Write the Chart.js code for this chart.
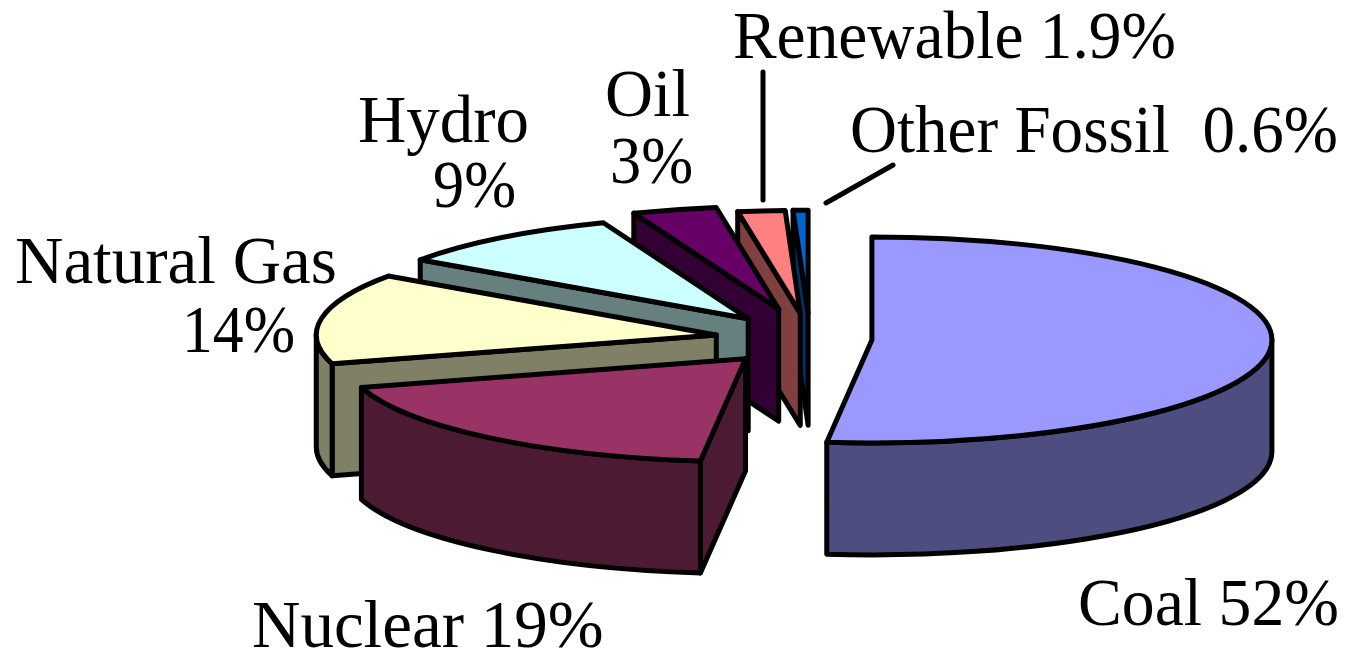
<!DOCTYPE html>
<html>
<head>
<meta charset="utf-8">
<script src="https://cdn.jsdelivr.net/npm/chart.js@4"></script>
<style>
  html, body { margin: 0; padding: 0; background: #fff; }
  canvas { display: block; }
</style>
</head>
<body>
<canvas id="grafik" width="1350" height="651"></canvas>
<script>
// --- data ---
const categories = ['Coal', 'Nuclear', 'Natural Gas', 'Hydro', 'Oil', 'Renewable', 'Other Fossil'];
// each one rounds to the printed label
const shares = [51.8, 18.7, 14.2, 9.4, 3.4, 1.9, 0.6];
const topColors = ['#9999FF', '#993366', '#FFFFCC', '#CCFFFF', '#660066', '#FF8080', '#0066CC'];
const wallColors = ['#4D4D80', '#4D1A33', '#808066', '#668080', '#330033', '#804040', '#003366'];
const explode = [62, 100, 95, 100, 120, 100, 100];

// text of the labels, left edge, baseline, width
const labelLines = [
    ['Renewable 1.9%', 733, 58, 443],
    ['Other Fossil  0.6%', 850, 152, 488],
    ['Oil', 605, 116, 85],
    ['3%', 610, 183, 83],
    ['Hydro', 358, 142, 171],
    ['9%', 433, 207, 83],
    ['Natural Gas', 15, 283, 323],
    ['14%', 182, 352, 113],
    ['Nuclear 19%', 252, 647, 352],
    ['Coal 52%', 1078, 625, 261]
];
const leaders = [[763, 72, 763, 200], [893, 165, 826, 203]];

// --- 3d look ---
const RX = 400, RY = 103, DEPTH = 112;

function sliceGeom(arc, i) {
    const mid = (arc.startAngle + arc.endAngle) / 2;
    return {
        x: arc.x + Math.cos(mid) * explode[i],
        y: arc.y + Math.sin(mid) * explode[i] * RY / RX,
        a0: arc.startAngle,
        a1: arc.endAngle
    };
}

function paint(ctx, fill) {
    ctx.fillStyle = fill;
    ctx.fill();
    ctx.stroke();
}

function drawFace(ctx, g, a, fill) {
    const px = g.x + Math.cos(a) * RX, py = g.y + Math.sin(a) * RY;
    ctx.beginPath();
    ctx.moveTo(g.x, g.y);
    ctx.lineTo(px, py);
    ctx.lineTo(px, py + DEPTH);
    ctx.lineTo(g.x, g.y + DEPTH);
    ctx.closePath();
    paint(ctx, fill);
}

function drawWalls(ctx, g, fill) {
    // cut faces that look toward the viewer
    if (Math.cos(g.a0) < 0) drawFace(ctx, g, g.a0, fill);
    if (Math.cos(g.a1) > 0) drawFace(ctx, g, g.a1, fill);
    // round outer wall, only the front half shows
    const lo = Math.max(g.a0, 0), hi = Math.min(g.a1, Math.PI);
    if (lo < hi) {
        ctx.beginPath();
        ctx.ellipse(g.x, g.y, RX, RY, 0, lo, hi);
        ctx.lineTo(g.x + Math.cos(hi) * RX, g.y + Math.sin(hi) * RY + DEPTH);
        ctx.ellipse(g.x, g.y + DEPTH, RX, RY, 0, hi, lo, true);
        ctx.closePath();
        paint(ctx, fill);
    }
}

function drawTop(ctx, g, fill) {
    ctx.beginPath();
    ctx.moveTo(g.x, g.y);
    ctx.ellipse(g.x, g.y, RX, RY, 0, g.a0, g.a1);
    ctx.closePath();
    paint(ctx, fill);
}

const pie3d = {
    id: 'pie3d',
    beforeDatasetsDraw(chart) {
        const ctx = chart.ctx;
        const arcs = chart.getDatasetMeta(0).data;
        const geoms = arcs.map(sliceGeom);
        ctx.save();
        ctx.strokeStyle = '#000';
        ctx.lineWidth = 5;
        ctx.lineJoin = 'round';
        ctx.lineCap = 'round';
        // back to front, walls first so the tops can lie over them
        for (let i = geoms.length - 1; i >= 0; i--) drawWalls(ctx, geoms[i], wallColors[i]);
        for (let i = geoms.length - 1; i >= 0; i--) drawTop(ctx, geoms[i], topColors[i]);

        leaders.forEach(l => {
            ctx.beginPath();
            ctx.moveTo(l[0], l[1]);
            ctx.lineTo(l[2], l[3]);
            ctx.stroke();
        });

        ctx.fillStyle = '#000';
        ctx.font = '67px "Liberation Serif"';
        ctx.textAlign = 'left';
        ctx.textBaseline = 'alphabetic';
        labelLines.forEach(t => ctx.fillText(t[0], t[1], t[2], t[3]));
        ctx.restore();
        return false; // the flat pie is replaced by the drawing above
    }
};

new Chart(document.getElementById('grafik'), {
    type: 'pie',
    data: {
        labels: categories,
        datasets: [{ data: shares, backgroundColor: topColors, borderWidth: 0 }]
    },
    options: {
        responsive: false,
        animation: false,
        devicePixelRatio: 1,
        layout: { padding: { left: 270, top: 27 } },
        plugins: { legend: { display: false }, tooltip: { enabled: false } }
    },
    plugins: [pie3d]
});
</script>
</body>
</html>
